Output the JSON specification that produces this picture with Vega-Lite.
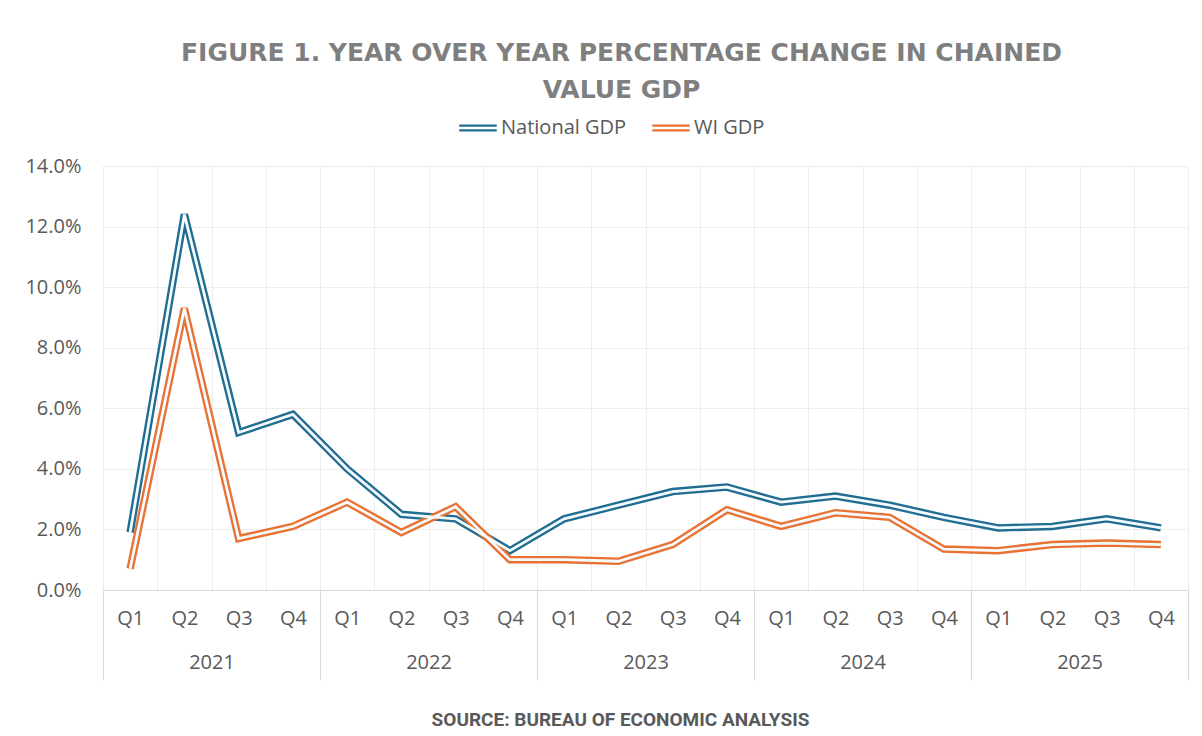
{
  "$schema": "https://vega.github.io/schema/vega-lite/v6.json",
  "width": 1085,
  "height": 424,
  "autosize": {"type": "none"},
  "padding": {"left": 103, "top": 166, "right": 14, "bottom": 146},
  "background": "white",
  "config": {"view": {"stroke": null}},
  "title": {
    "text": ["FIGURE 1. YEAR OVER YEAR PERCENTAGE CHANGE IN CHAINED", "VALUE GDP"],
    "font": "DejaVu Sans",
    "fontSize": 25,
    "fontWeight": "bold",
    "color": "#7f7f7f",
    "anchor": "middle",
    "offset": 5,
    "dx": -24,
    "lineHeight": 37
  },
  "datasets": {
    "gdp": [
      {"period": "2021 Q1", "series": "National GDP", "value": 1.9},
      {"period": "2021 Q2", "series": "National GDP", "value": 12.4},
      {"period": "2021 Q3", "series": "National GDP", "value": 5.2},
      {"period": "2021 Q4", "series": "National GDP", "value": 5.8},
      {"period": "2022 Q1", "series": "National GDP", "value": 4.0},
      {"period": "2022 Q2", "series": "National GDP", "value": 2.5},
      {"period": "2022 Q3", "series": "National GDP", "value": 2.35},
      {"period": "2022 Q4", "series": "National GDP", "value": 1.3},
      {"period": "2023 Q1", "series": "National GDP", "value": 2.35},
      {"period": "2023 Q2", "series": "National GDP", "value": 2.8},
      {"period": "2023 Q3", "series": "National GDP", "value": 3.25},
      {"period": "2023 Q4", "series": "National GDP", "value": 3.4},
      {"period": "2024 Q1", "series": "National GDP", "value": 2.9},
      {"period": "2024 Q2", "series": "National GDP", "value": 3.1},
      {"period": "2024 Q3", "series": "National GDP", "value": 2.8},
      {"period": "2024 Q4", "series": "National GDP", "value": 2.4},
      {"period": "2025 Q1", "series": "National GDP", "value": 2.05},
      {"period": "2025 Q2", "series": "National GDP", "value": 2.1},
      {"period": "2025 Q3", "series": "National GDP", "value": 2.35},
      {"period": "2025 Q4", "series": "National GDP", "value": 2.05},
      {"period": "2021 Q1", "series": "WI GDP", "value": 0.7},
      {"period": "2021 Q2", "series": "WI GDP", "value": 9.3},
      {"period": "2021 Q3", "series": "WI GDP", "value": 1.7},
      {"period": "2021 Q4", "series": "WI GDP", "value": 2.1},
      {"period": "2022 Q1", "series": "WI GDP", "value": 2.9},
      {"period": "2022 Q2", "series": "WI GDP", "value": 1.9},
      {"period": "2022 Q3", "series": "WI GDP", "value": 2.75},
      {"period": "2022 Q4", "series": "WI GDP", "value": 1.0},
      {"period": "2023 Q1", "series": "WI GDP", "value": 1.0},
      {"period": "2023 Q2", "series": "WI GDP", "value": 0.95},
      {"period": "2023 Q3", "series": "WI GDP", "value": 1.5},
      {"period": "2023 Q4", "series": "WI GDP", "value": 2.65},
      {"period": "2024 Q1", "series": "WI GDP", "value": 2.1},
      {"period": "2024 Q2", "series": "WI GDP", "value": 2.55},
      {"period": "2024 Q3", "series": "WI GDP", "value": 2.4},
      {"period": "2024 Q4", "series": "WI GDP", "value": 1.35},
      {"period": "2025 Q1", "series": "WI GDP", "value": 1.3},
      {"period": "2025 Q2", "series": "WI GDP", "value": 1.5},
      {"period": "2025 Q3", "series": "WI GDP", "value": 1.55},
      {"period": "2025 Q4", "series": "WI GDP", "value": 1.5}
    ],
    "years": [
      {"year": "2021"}, {"year": "2022"}, {"year": "2023"}, {"year": "2024"}, {"year": "2025"}
    ]
  },
  "layer": [
    {
      "data": {"name": "gdp"},
      "encoding": {
        "x": {
          "field": "period",
          "type": "ordinal",
          "scale": {"type": "band", "paddingInner": 0, "paddingOuter": 0},
          "axis": {
            "title": null,
            "labelExpr": "slice(datum.label, 5)",
            "labelAngle": 0,
            "labelFont": "Open Sans",
            "labelFontSize": 20,
            "labelColor": "#595959",
            "labelPadding": 18,
            "ticks": false,
            "tickBand": "extent",
            "grid": true,
            "gridColor": "#ededed",
            "gridWidth": 1,
            "domainColor": "#d9d9d9"
          }
        },
        "y": {
          "field": "value",
          "type": "quantitative",
          "scale": {"domain": [0, 14]},
          "axis": {
            "title": null,
            "values": [0, 2, 4, 6, 8, 10, 12, 14],
            "labelExpr": "format(datum.value, '.1f') + '%'",
            "labelFont": "Open Sans",
            "labelFontSize": 20,
            "labelColor": "#595959",
            "labelPadding": 22,
            "ticks": false,
            "domain": false,
            "gridColor": "#ededed"
          }
        }
      },
      "layer": [
        {
          "mark": {"type": "line", "strokeWidth": 7.5, "strokeJoin": "miter"},
          "encoding": {
            "color": {
              "field": "series",
              "type": "nominal",
              "scale": {"domain": ["National GDP", "WI GDP"], "range": ["#216d91", "#e97132"]},
              "legend": {
                "title": null,
                "orient": "none",
                "legendX": 355,
                "legendY": -58,
                "direction": "horizontal",
                "symbolType": "M-1,-0.13H1M-1,0.13H1",
                "symbolSize": 1400,
                "symbolStrokeWidth": 2.2,
                "labelFont": "Open Sans",
                "labelFontSize": 20,
                "labelColor": "#595959",
                "labelOffset": 3,
                "columnPadding": 20
              }
            }
          }
        },
        {
          "mark": {"type": "line", "strokeWidth": 2.8, "strokeJoin": "miter", "color": "#f4fbff"},
          "encoding": {"detail": {"field": "series"}}
        }
      ]
    },
    {
      "data": {"name": "years"},
      "mark": {"type": "point", "opacity": 0},
      "encoding": {
        "x": {
          "field": "year",
          "type": "ordinal",
          "scale": {"type": "band", "paddingInner": 0, "paddingOuter": 0},
          "axis": {
            "orient": "bottom",
            "title": "SOURCE: BUREAU OF ECONOMIC ANALYSIS",
            "titleFont": "Roboto",
            "titleFontSize": 19,
            "titleFontWeight": "bold",
            "titleColor": "#595959",
            "titlePadding": 30,
            "titleX": 517,
            "labelAngle": 0,
            "labelFont": "Open Sans",
            "labelFontSize": 20,
            "labelColor": "#595959",
            "labelPadding": -28,
            "tickBand": "extent",
            "ticks": true,
            "tickSize": 90,
            "tickColor": "#d9d9d9",
            "domain": false,
            "grid": false
          }
        }
      }
    }
  ],
  "resolve": {"scale": {"x": "independent"}, "axis": {"x": "independent"}}
}
